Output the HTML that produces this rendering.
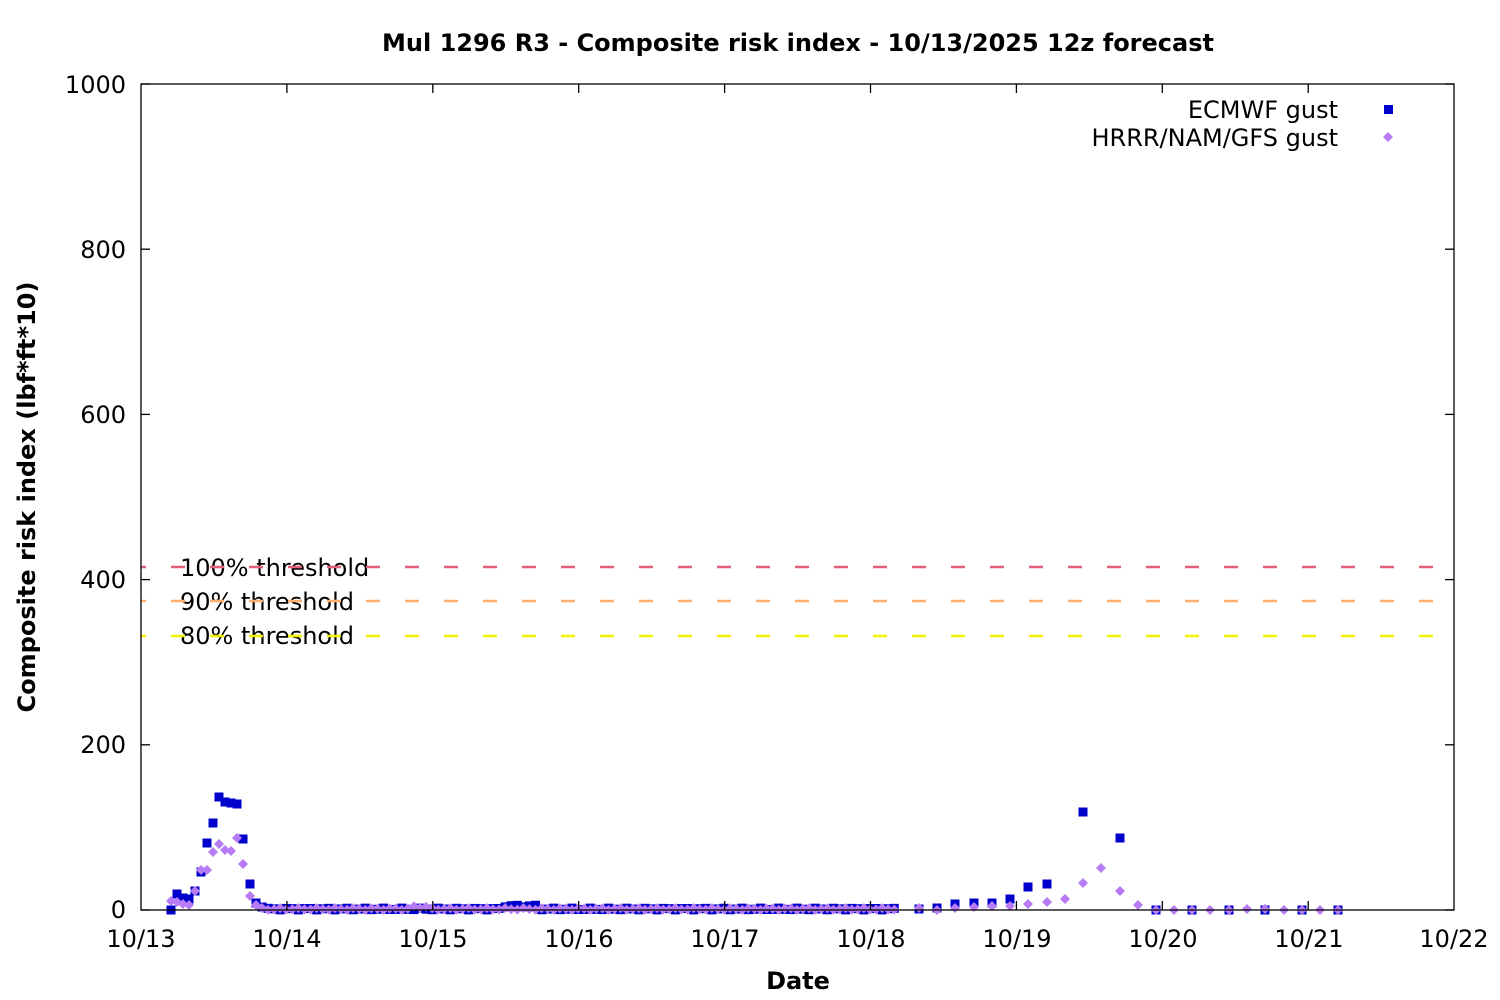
<!DOCTYPE html>
<html><head><meta charset="utf-8"><style>body{margin:0;background:#fff}svg{display:block}text{font-family:"DejaVu Sans","Liberation Sans",sans-serif}</style></head>
<body>
<svg id="s" width="1500" height="1000" xmlns="http://www.w3.org/2000/svg">
<rect width="1500" height="1000" fill="#fff"/>
<text x="798" y="51" font-size="24" font-weight="bold" text-anchor="middle">Mul 1296 R3 - Composite risk index - 10/13/2025 12z forecast</text>
<g font-size="24" text-anchor="end">
<text x="126" y="918">0</text><text x="126" y="753">200</text><text x="126" y="588">400</text><text x="126" y="423">600</text><text x="126" y="258">800</text><text x="126" y="93">1000</text>
</g>
<g font-size="24" text-anchor="middle">
<text x="141" y="947">10/13</text><text x="287" y="947">10/14</text><text x="433" y="947">10/15</text><text x="579" y="947">10/16</text><text x="725" y="947">10/17</text><text x="871" y="947">10/18</text><text x="1017" y="947">10/19</text><text x="1163" y="947">10/20</text><text x="1309" y="947">10/21</text><text x="1454" y="947">10/22</text>
</g>
<text x="798" y="989" font-size="24" font-weight="bold" text-anchor="middle">Date</text>
<text transform="translate(35,497) rotate(-90)" font-size="24" font-weight="bold" text-anchor="middle">Composite risk index (lbf*ft*10)</text>
<g font-size="24" text-anchor="end">
<text x="1338" y="118">ECMWF gust</text><text x="1338" y="146">HRRR/NAM/GFS gust</text>
</g>
<rect x="1384" y="105" width="9" height="9" fill="#0000cc"/>
<path d="M1388,132 l5,5 -5,5 -5,-5z" fill="#b77cf5"/>
<g font-size="24">
<text x="180" y="576">100% threshold</text><text x="180" y="610">90% threshold</text><text x="180" y="644">80% threshold</text>
</g>
<g stroke-width="2.5" stroke-dasharray="14,25" stroke-dashoffset="-30">
<line x1="141" y1="567" x2="1454" y2="567" stroke="#e0607a"/>
<line x1="141" y1="601" x2="1454" y2="601" stroke="#ffb070"/>
<line x1="141" y1="636" x2="1454" y2="636" stroke="#f0f000"/>
</g>
<g id="pts"></g>
<rect x="141" y="84" width="1313" height="826" fill="none" stroke="#000" stroke-width="1.3"/>
<g stroke="#000" stroke-width="1.3" id="ticks"></g>
</svg>
<script>
var ns="http://www.w3.org/2000/svg",t=document.getElementById('ticks'),p=document.getElementById('pts');
function L(x1,y1,x2,y2){var l=document.createElementNS(ns,'line');l.setAttribute('x1',x1);l.setAttribute('y1',y1);l.setAttribute('x2',x2);l.setAttribute('y2',y2);t.appendChild(l);}
for(var i=0;i<=5;i++){var y=910-i*165.2;L(141,y,150,y);L(1454,y,1445,y);}
for(var i=1;i<9;i++){var x=141+i*145.9;L(x,910,x,901);L(x,84,x,93);}
var B=[[171,910],[177,894],[183,898],[189,899],[195,891],[201,872],[207,843],[213,823],[219,797],[225,802],[231,803],[237,804],[243,839],[250,884],[256,903],[262,907]];
var P=[[171,901],[177,902],[183,904],[189,905],[195,891],[201,870],[207,870],[213,852],[219,844],[225,850],[231,851],[237,838],[243,864],[250,896],[256,905],[262,908]];
for(var x=268;x<=900;x+=6.08){var n=Math.sin(x*0.7)*1.5;B.push([x,909+n*0.6-(x>500&&x<540?3:0)]);P.push([x,909-n*0.6-(x>410&&x<430?2:0)]);}
B=B.concat([[919,909],[937,908],[955,904],[974,903],[992,903],[1010,899],[1028,887],[1047,884],[1083,812],[1120,838],[1156,910],[1192,910],[1229,910],[1265,910],[1302,910],[1338,910]]);
P=P.concat([[919,908],[937,910],[955,908],[974,907],[992,906],[1010,906],[1028,904],[1047,902],[1065,899],[1083,883],[1101,868],[1120,891],[1138,905],[1156,910],[1174,910],[1192,910],[1210,910],[1229,910],[1247,909],[1265,909],[1284,910],[1302,910],[1320,910],[1338,910]]);
var s='';
B.forEach(function(q){s+='<rect x="'+(q[0]-4.5)+'" y="'+(q[1]-4.5)+'" width="9" height="9" fill="#0000cc"/>';});
P.forEach(function(q){s+='<path d="M'+q[0]+','+(q[1]-5)+' l5,5 -5,5 -5,-5z" fill="#b77cf5"/>';});
p.innerHTML=s;
</script>
</body></html>
